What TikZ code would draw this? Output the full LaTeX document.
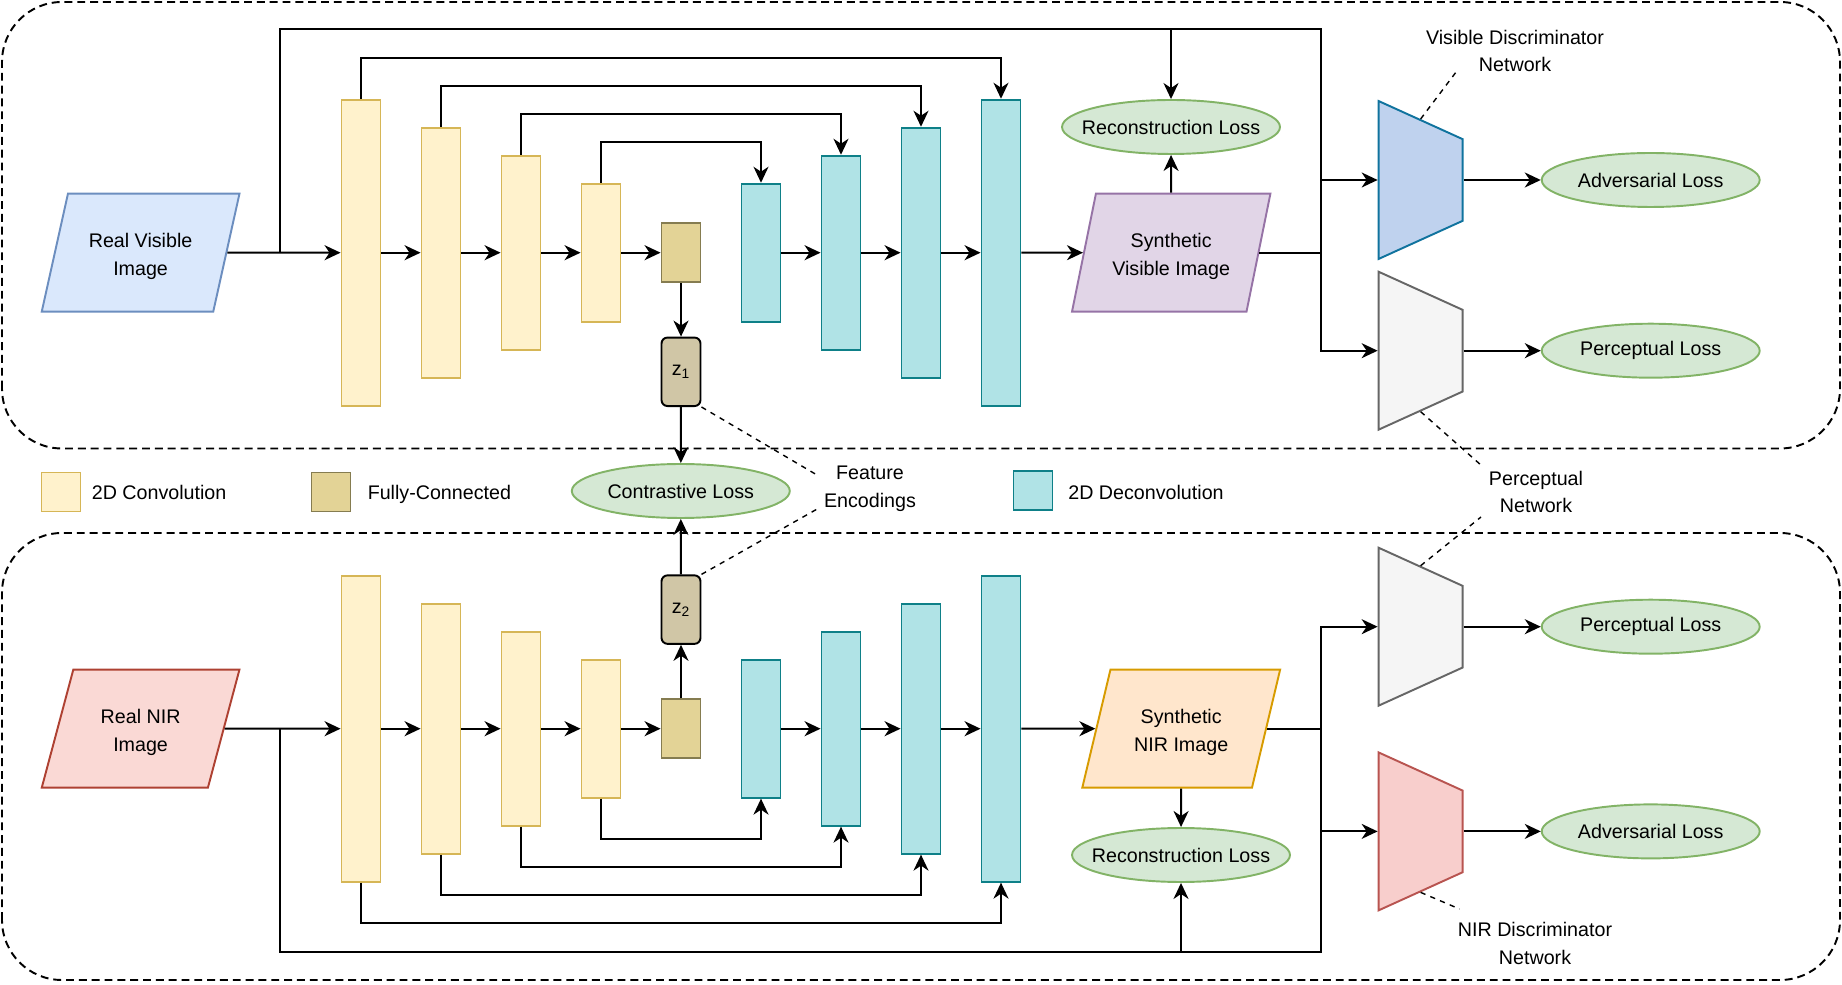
\documentclass[tikz,border=0pt]{standalone}
\usepackage{fontspec}
\setmainfont{Liberation Sans}
\usetikzlibrary{shapes.geometric,arrows.meta}

\definecolor{convfill}{HTML}{FFF2CC}
\definecolor{convline}{HTML}{D6B656}
\definecolor{fcfill}{HTML}{E3D396}
\definecolor{fcline}{HTML}{857C50}
\definecolor{zfill}{HTML}{D0C6A6}
\definecolor{deconvfill}{HTML}{B0E3E6}
\definecolor{deconvline}{HTML}{0E8088}
\definecolor{rvfill}{HTML}{DAE8FC}
\definecolor{rvline}{HTML}{6C8EBF}
\definecolor{svfill}{HTML}{E1D5E7}
\definecolor{svline}{HTML}{9673A6}
\definecolor{rnfill}{HTML}{FAD9D5}
\definecolor{rnline}{HTML}{AE4132}
\definecolor{snfill}{HTML}{FFE6CC}
\definecolor{snline}{HTML}{D79B00}
\definecolor{lossfill}{HTML}{D5E8D4}
\definecolor{lossline}{HTML}{82B366}
\definecolor{vdfill}{HTML}{BFD2EE}
\definecolor{vdline}{HTML}{10739E}
\definecolor{pfill}{HTML}{F5F5F5}
\definecolor{pline}{HTML}{666666}
\definecolor{ndfill}{HTML}{F8CECC}
\definecolor{ndline}{HTML}{B85450}

\newcommand{\paratext}[1]{\raisebox{-0.07cm}[\height][\depth]{\begin{tabular}{@{}c@{}}#1\end{tabular}}}
\newcommand{\losstext}[1]{\makebox[0pt]{#1}}

\tikzset{
  base/.style={draw, line width=1.1pt, inner sep=0pt},
  conv/.style={base, fill=convfill, draw=convline, minimum width=0.78cm},
  deconv/.style={base, fill=deconvfill, draw=deconvline, minimum width=0.78cm},
  fcbox/.style={base, fill=fcfill, draw=fcline, minimum width=0.78cm, minimum height=1.17cm},
  zbox/.style={base, fill=zfill, draw=black, rounded corners=0.12cm, minimum width=0.78cm, minimum height=1.37cm},
  para/.style={base, trapezium, trapezium left angle=71.5, trapezium right angle=108.5,
    trapezium stretches=true, minimum width=3.98cm, minimum height=2.36cm},
  disc/.style={base, inner sep=2pt, trapezium, trapezium left angle=65, trapezium right angle=65,
    trapezium stretches=true, minimum width=3.16cm, minimum height=1.68cm, rotate=-90},
  loss/.style={base, ellipse, fill=lossfill, draw=lossline, minimum width=4.36cm, minimum height=1.08cm},
  label/.style={inner sep=0pt, align=center},
  zone/.style={line width=1.1pt, dash pattern=on 4.5pt off 2.8pt, rounded corners=1.2cm},
  leader/.style={line width=0.8pt, dash pattern=on 3pt off 3pt},
  arr/.style={line width=1.1pt, -{Stealth[length=0.32cm, width=0.3cm, inset=0.1cm]}}
}

\begin{document}
\begin{tikzpicture}[x=0.02cm, y=0.02cm, font=\fontsize{11.2}{15.9}\selectfont]
  \useasboundingbox (0,0) rectangle (1842,984);
  \draw[zone] (2,535.5) rectangle (1840,982);
  \draw[zone] (2,4) rectangle (1840,451);

  \node[para, fill=rvfill, draw=rvline] (rv) at (140.6,731.3) {\paratext{Real Visible\\Image}};
  \node[conv, minimum height=6.12cm] (c1) at (361,731.3) {};
  \node[conv, minimum height=5cm] (c2) at (441,731.3) {};
  \node[conv, minimum height=3.88cm] (c3) at (521,731.3) {};
  \node[conv, minimum height=2.76cm] (c4) at (601,731.3) {};
  \node[fcbox] (f1) at (681,731.3) {};
  \node[zbox] (z1) at (681,612.2) {z\textsubscript{1}};
  \node[deconv, minimum height=2.76cm] (d1) at (761,731.3) {};
  \node[deconv, minimum height=3.88cm] (d2) at (841,731.3) {};
  \node[deconv, minimum height=5cm] (d3) at (921,731.3) {};
  \node[deconv, minimum height=6.12cm] (d4) at (1001,731.3) {};
  \node[para, fill=svfill, draw=svline] (sv) at (1171.2,731.3) {\paratext{Synthetic\\Visible Image}};
  \node[loss] (rl1) at (1171,857) {\losstext{Reconstruction Loss}};
  \node[disc, fill=vdfill, draw=vdline] (vd) at (1420.6,804) {};
  \node[disc, fill=pfill, draw=pline] (pv) at (1420.6,633.3) {};
  \node[loss] (al1) at (1650.7,804) {\losstext{Adversarial Loss}};
  \node[loss] (pl1) at (1650.7,633.3) {\losstext{Perceptual Loss}};

  \node[loss] (cl) at (680.8,493) {\losstext{Contrastive Loss}};
  \node[conv, minimum height=0.78cm] (lc) at (61,492) {};
  \node[label, anchor=base west] (lct) at (91.5,484.2) {2D Convolution};
  \node[fcbox, minimum height=0.78cm] (lf) at (331,492) {};
  \node[label, anchor=base west] (lft) at (367.4,484.2) {Fully-Connected};
  \node[deconv, minimum height=0.78cm] (ld) at (1033,493.8) {};
  \node[label, anchor=base west] (ldt) at (1068,484.2) {2D Deconvolution};
  \node[label] (feat) at (870,495) {Feature\\Encodings};
  \node[label] (vdl) at (1515,933) {Visible Discriminator\\Network};
  \node[label] (pnl) at (1536,492) {Perceptual\\Network};
  \node[label] (ndl) at (1535,41) {NIR Discriminator\\Network};

  \node[para, fill=rnfill, draw=rnline] (rn) at (140.6,255.3) {\paratext{Real NIR\\Image}};
  \node[conv, minimum height=6.12cm] (c1b) at (361,255.3) {};
  \node[conv, minimum height=5cm] (c2b) at (441,255.3) {};
  \node[conv, minimum height=3.88cm] (c3b) at (521,255.3) {};
  \node[conv, minimum height=2.76cm] (c4b) at (601,255.3) {};
  \node[fcbox] (f2) at (681,255.3) {};
  \node[zbox] (z2) at (681,374.4) {z\textsubscript{2}};
  \node[deconv, minimum height=2.76cm] (d1b) at (761,255.3) {};
  \node[deconv, minimum height=3.88cm] (d2b) at (841,255.3) {};
  \node[deconv, minimum height=5cm] (d3b) at (921,255.3) {};
  \node[deconv, minimum height=6.12cm] (d4b) at (1001,255.3) {};
  \node[para, fill=snfill, draw=snline] (sn) at (1181.2,255.3) {\paratext{Synthetic\\NIR Image}};
  \node[loss] (rl2) at (1181,129) {\losstext{Reconstruction Loss}};
  \node[disc, fill=pfill, draw=pline] (pn) at (1420.6,357.3) {};
  \node[disc, fill=ndfill, draw=ndline] (nd) at (1420.6,152.6) {};
  \node[loss] (pl2) at (1650.7,357.3) {\losstext{Perceptual Loss}};
  \node[loss] (al2) at (1650.7,152.6) {\losstext{Adversarial Loss}};

  \coordinate (jv) at (280.4,731.3);
  \coordinate (kv) at (1320.6,954.7);
  \coordinate (jn) at (280.4,255.3);
  \coordinate (kn) at (1320.6,31.8);
  \coordinate (f1e) at (816.5,509.3);
  \coordinate (f2e) at (816.5,474.6);
  \coordinate (vde) at (1457.6,914);
  \coordinate (pve) at (1482,518);
  \coordinate (pne) at (1481,467);
  \coordinate (nde) at (1459.5,75);

  \foreach \a/\b in {rv/c1,c1/c2,c2/c3,c3/c4,c4/f1,d1/d2,d2/d3,d3/d4,d4/sv,
                     rn/c1b,c1b/c2b,c2b/c3b,c3b/c4b,c4b/f2,d1b/d2b,d2b/d3b,d3b/d4b,d4b/sn,
                     f1/z1,z1/cl,f2/z2,z2/cl,sv/rl1,sn/rl2}
    \draw[arr] (\a) -- (\b);
  \foreach \a/\b in {c1/d4,c2/d3,c3/d2,c4/d1}
    \draw[arr] (\a.north) -- ++(0,40.7) -| (\b.north);
  \foreach \a/\b in {c1b/d4b,c2b/d3b,c3b/d2b,c4b/d1b}
    \draw[arr] (\a.south) -- ++(0,-40.7) -| (\b.south);

  \draw[arr] (jv) |- (kv) |- (pv.south);
  \draw[arr] (rl1.north |- kv) -- (rl1.north);
  \draw[line width=1.1pt] (sv.east) -- (sv.east -| kv);
  \draw[arr] (kv |- vd.south) -- (vd.south);
  \draw[arr] (vd.north) -- (al1);
  \draw[arr] (pv.north) -- (pl1);

  \draw[arr] (jn) |- (kn) |- (pn.south);
  \draw[arr] (rl2.south |- kn) -- (rl2.south);
  \draw[line width=1.1pt] (sn.east) -- (sn.east -| kn);
  \draw[arr] (kn |- nd.south) -- (nd.south);
  \draw[arr] (pn.north) -- (pl2);
  \draw[arr] (nd.north) -- (al2);

  \draw[leader] (z1.south east) -- (f1e);
  \draw[leader] (z2.north east) -- (f2e);
  \draw[leader] (vd.west) -- (vde);
  \draw[leader] (pv.east) -- (pve);
  \draw[leader] (pn.west) -- (pne);
  \draw[leader] (nd.east) -- (nde);
\end{tikzpicture}
\end{document}
